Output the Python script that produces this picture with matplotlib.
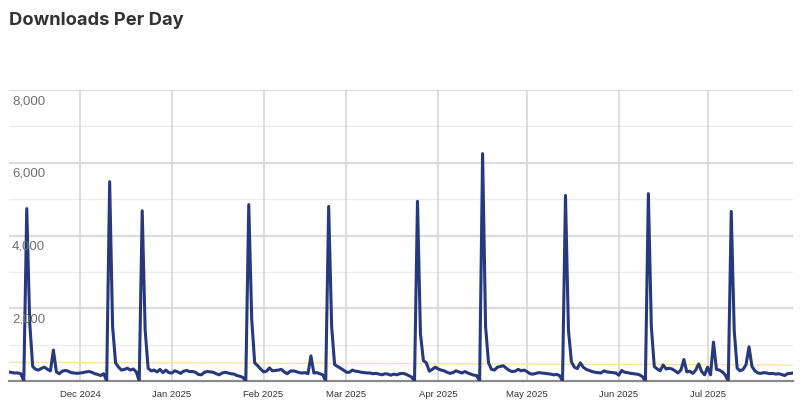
import matplotlib
matplotlib.use("Agg")
import matplotlib.pyplot as plt
import numpy as np
import pandas as pd

title = "Downloads Per Day"
start_date = "2024-11-07"
downloads = [
    250, 230, 220, 220, 200, 0, 4740, 1600, 400, 320,
    300, 350, 380, 320, 280, 850, 250, 200, 270, 290,
    270, 230, 220, 210, 220, 230, 250, 260, 240, 200,
    180, 150, 200, 0, 5480, 1500, 500, 380, 300, 320,
    350, 300, 330, 250, 0, 4680, 1400, 350, 280, 300,
    250, 320, 230, 300, 230, 220, 280, 250, 210, 270,
    290, 260, 260, 240, 180, 170, 240, 260, 250, 240,
    200, 170, 220, 240, 220, 200, 190, 150, 130, 100,
    0, 4850, 1700, 500, 420, 330, 250, 270, 360, 280,
    290, 300, 320, 250, 200, 270, 280, 260, 230, 220,
    230, 200, 690, 220, 230, 200, 170, 0, 4800, 1500,
    450, 400, 350, 300, 240, 240, 300, 270, 260, 240,
    230, 220, 220, 200, 210, 190, 170, 200, 190, 160,
    190, 170, 200, 210, 190, 150, 110, 0, 4940, 1300,
    560, 500, 270, 320, 380, 330, 300, 280, 240, 210,
    230, 280, 250, 220, 260, 220, 190, 160, 150, 0,
    6250, 1500, 500, 320, 300, 380, 400, 420, 350, 290,
    260, 270, 320, 280, 300, 260, 200, 190, 210, 230,
    220, 210, 200, 190, 170, 180, 150, 0, 5100, 1400,
    530, 380, 340, 500, 380, 320, 290, 260, 240, 230,
    220, 280, 250, 240, 230, 220, 160, 290, 240, 230,
    210, 200, 190, 170, 120, 0, 5150, 1500, 400, 330,
    280, 440, 330, 350, 330, 280, 220, 300, 590, 250,
    270, 210, 300, 470, 260, 170, 380, 170, 1070, 320,
    300, 250, 160, 0, 4660, 1400, 350, 280, 320, 450,
    940, 400, 280, 220, 210, 230, 220, 200, 210, 190,
    200, 180, 150, 200, 210, 220,
]
trend_values = [515, 440]
y_ticks = [2000, 4000, 6000, 8000]
y_labels = ["2,000", "4,000", "6,000", "8,000"]
month_ticks = ["2024-12-01", "2025-01-01", "2025-02-01", "2025-03-01",
               "2025-04-01", "2025-05-01", "2025-06-01", "2025-07-01"]
month_labels = ["Dec 2024", "Jan 2025", "Feb 2025", "Mar 2025",
                "Apr 2025", "May 2025", "Jun 2025", "Jul 2025"]

dates = pd.date_range(start_date, periods=len(downloads), freq="D")

fig = plt.figure(figsize=(8, 4.14), dpi=100)
ax = fig.add_axes([9 / 800, 32 / 414, 784.4 / 800, 291 / 414])

ax.set_xlim(dates[0], dates[-1])
ax.set_ylim(0, 8000)

# horizontal gridlines
for v in range(1000, 8001, 1000):
    if v % 2000 == 0:
        ax.axhline(v, color="#dcdcdc", lw=1.6, zorder=0)
    else:
        ax.axhline(v, color="#ececec", lw=1.0, zorder=0)
# vertical month gridlines
mt = pd.to_datetime(month_ticks)
for d in mt:
    ax.axvline(d, color="#d6d6d6", lw=1.2, zorder=0)

# trend line
ax.plot([dates[0], dates[-1]], trend_values, color="#fbe3a0", lw=1.0, zorder=1)

ax.plot(dates, downloads, color="#26387e", lw=2.2, zorder=3,
        solid_joinstyle="round", solid_capstyle="round")

for s in ["top", "right", "left"]:
    ax.spines[s].set_visible(False)
ax.spines["bottom"].set_color("#8a8a8a")
ax.spines["bottom"].set_linewidth(1.6)

ax.set_yticks([])
ax.set_xticks(mt)
ax.set_xticklabels(month_labels, fontsize=6.8, color="#333333",
                   family=["Liberation Sans", "DejaVu Sans"])
ax.tick_params(axis="x", length=0, pad=6)

for v, lab in zip(y_ticks, y_labels):
    ax.annotate(lab, xy=(0, v), xycoords=("axes fraction", "data"),
                xytext=(3, -4), textcoords="offset pixels",
                ha="left", va="top", fontsize=9.5, color="#707070",
                family=["Liberation Sans", "DejaVu Sans"], zorder=4)

fig.text(9 / 800, 1 - 25 / 414, title, fontsize=13.2, fontweight="bold",
         color="#333333", ha="left", va="baseline",
         family=["Inter", "Liberation Sans", "DejaVu Sans"])

fig.savefig("out.png", dpi=100)
